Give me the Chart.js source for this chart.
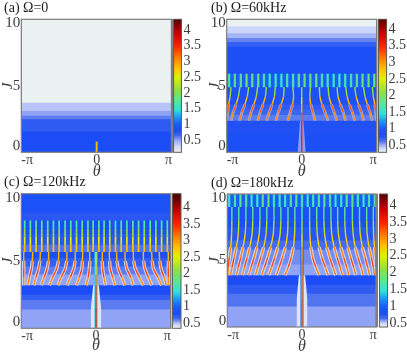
<!DOCTYPE html>
<html>
<head>
<meta charset="utf-8">
<script src="https://cdn.jsdelivr.net/npm/chart.js@4"></script>
<style>
  html, body { margin: 0; padding: 0; background: #fff; }
  canvas { position: absolute; filter: blur(0.35px); }
</style>
</head>
<body>
<script>
/* ── Axis labels ── */
const thetaTicks = [-Math.PI, 0, Math.PI];
const thetaLabels = ['-π', '0', 'π'];
const jTicks = [0.45, 5, 9.7];
const jLabels = ['0', '5', '10'];
const barTicks = [0.5, 1, 1.5, 2, 2.5, 3, 3.5, 4];
const barLabels = ['0.5', '1', '1.5', '2', '2.5', '3', '3.5', '4'];
const titles = ['(a) Ω=0', '(b) Ω=60kHz', '(c) Ω=120kHz', '(d) Ω=180kHz'];

/* ── Colour scale ── */
const scaleVals = [0.13, 0.3, 0.45, 0.55, 0.65, 0.8, 1.0, 1.2, 1.45, 1.7, 2.1, 2.5, 2.8, 3.1, 3.5, 3.9, 4.34];
const scaleCols = ['#ebf0f0', '#ccd6fa', '#a6b5f8', '#7a90f2', '#3f68f0', '#1c4cf6', '#1a5cf8', '#1e90f5', '#30e0e0',
                   '#50e8a0', '#90e040', '#e0f000', '#ffc000', '#ff8000', '#ff2000', '#c80000', '#500000'];
const barMin = [0.11, 0.28, 0.35, 0.38];
const barMax = [4.34, 4.3, 4.41, 4.34];

/* ── Background bands: lower J edge and level ── */
const aEdges = [0, 1.55, 2.48, 2.75, 3.1, 3.73];
const aVals  = [0.8, 0.72, 0.6, 0.5, 0.38, 0.13];
const bEdges = [0, 1.4, 2.38, 2.8, 3.2, 3.6, 4.0, 4.9, 5.9, 7.93, 8.3, 8.6, 8.95, 9.45];
const bVals  = [0.84, 0.78, 0.6, 0.66, 0.72, 0.78, 0.86, 1.0, 0.84, 0.7, 0.58, 0.45, 0.3, 0.13];
const cEdges = [0, 1.4, 2.1, 2.5, 3.2, 4.0, 4.6, 5.2, 5.67, 6.2, 7.0, 8.0, 8.56];
const cVals  = [0.5, 0.6, 0.7, 0.8, 0.5, 0.6, 0.7, 0.82, 0.62, 0.74, 0.84, 0.74, 0.86];
const dEdges = [0, 1.55, 2.5, 3.18, 3.9, 4.7, 5.8, 6.5, 7.5, 9.02];
const dVals  = [0.5, 0.62, 0.72, 0.8, 0.5, 0.56, 0.64, 0.74, 0.84, 1.0];

/* ── Pale wedge around theta = 0 ── */
const bWedgeTheta = [-0.17, -0.07, 0.07, 0.17];
const bWedgeJ = [0, 2.38, 2.38, 0];
const cWedgeTheta = [-0.22, -0.22, -0.12, 0.12, 0.22, 0.22];
const cWedgeJ = [0, 1.4, 3.2, 3.2, 1.4, 0];
const dWedgeTheta = [-0.23, -0.23, -0.13, 0.13, 0.23, 0.23];
const dWedgeJ = [0, 2.0, 3.9, 3.9, 2.0, 0];

/* ── Centre line ── */
const aCoreJ = [0, 0.8];
const aCoreVal = [2.9, 2.7];
const bCoreJ = [0, 1.2, 2.4, 3.0, 3.6, 4.2, 4.9];
const bCoreVal = [3.5, 3.6, 3.5, 3.1, 2.7, 2.3, 1.9];
const cCoreJ = [0, 1.5, 3.2, 4.0, 4.8, 5.67];
const cCoreVal = [3.6, 3.5, 3.3, 2.9, 2.6, 2.2];
const dCoreJ = [0, 2.0, 3.9, 5.0, 6.0, 7.0, 8.0, 9.02];
const dCoreVal = [3.2, 3.1, 3.0, 3.1, 2.8, 2.4, 1.9, 1.5];

/* ── Straight stripes ── */
const bStripeTheta = [-3.04, -2.80, -2.55, -2.31, -2.07, -1.82, -1.58, -1.34, -1.09, -0.85, -0.61, -0.36, -0.12,
                      0.12, 0.36, 0.61, 0.85, 1.09, 1.34, 1.58, 1.82, 2.07, 2.31, 2.55, 2.80, 3.04];
const bStripeJ = [4.9, 5.9];
const bStripeVal = [2.0, 1.9];
const cStripeTheta = [-3.0, -2.76, -2.52, -2.28, -2.03, -1.79, -1.55, -1.30, -1.06, -0.82, -0.58, -0.34, -0.12,
                      0.12, 0.34, 0.58, 0.82, 1.06, 1.30, 1.55, 1.79, 2.03, 2.28, 2.52, 2.76, 3.0];
const cStripeJ = [5.67, 6.2, 6.8, 7.4, 8.0];
const cStripeVal = [2.9, 2.7, 2.3, 1.9, 1.5];
const dStripeTheta = [-3.06, -2.82, -2.59, -2.35, -2.12, -1.88, -1.65, -1.41, -1.18, -0.94, -0.71, -0.47, -0.24,
                      0.0, 0.24, 0.47, 0.71, 0.94, 1.18, 1.41, 1.65, 1.88, 2.12, 2.35, 2.59, 2.82, 3.06];
const dStripeJ = [9.02, 10];
const dStripeVal = [1.9, 1.8];

/* ── Bent streaks, one row per streak ── */
const bCurveJ = [4.9, 4.2, 3.6, 3.0, 2.38];
const bCurveVal = [1.8, 2.5, 3.1, 3.4, 2.7];
const bCurveTheta = [
  [-2.96, -3.0, -3.06, -3.1, -3.13], [-2.59, -2.65, -2.75, -2.87, -2.96], [-2.22, -2.28, -2.38, -2.5, -2.6],
  [-1.85, -1.9, -2.0, -2.12, -2.22], [-1.48, -1.52, -1.62, -1.74, -1.84], [-1.11, -1.14, -1.24, -1.36, -1.47],
  [-0.74, -0.76, -0.86, -0.98, -1.08], [-0.37, -0.34, -0.38, -0.48, -0.58],
  [0.37, 0.34, 0.38, 0.47, 0.56], [0.74, 0.76, 0.85, 0.98, 1.1], [1.11, 1.14, 1.24, 1.36, 1.47],
  [1.48, 1.52, 1.62, 1.74, 1.84], [1.85, 1.9, 2.0, 2.12, 2.22], [2.22, 2.28, 2.38, 2.5, 2.6],
  [2.59, 2.65, 2.75, 2.86, 2.95], [2.96, 3.0, 3.06, 3.1, 3.12]
];
const cCurveJ = [5.67, 5.0, 4.4, 3.8, 3.2];
const cCurveVal = [2.7, 3.0, 3.4, 3.3, 2.8];
const cCurveTheta = [
  [-3.04, -3.04, -3.04, -3.04, -3.04], [-2.66, -2.68, -2.72, -2.8, -2.86], [-2.34, -2.36, -2.42, -2.52, -2.62],
  [-1.99, -2.0, -2.06, -2.18, -2.3], [-1.57, -1.58, -1.66, -1.82, -1.96], [-1.22, -1.23, -1.3, -1.46, -1.6],
  [-0.87, -0.88, -0.94, -1.08, -1.22], [-0.56, -0.57, -0.6, -0.7, -0.82], [-0.27, -0.26, -0.28, -0.33, -0.42],
  [0.27, 0.26, 0.28, 0.33, 0.4], [0.56, 0.57, 0.6, 0.7, 0.8], [0.87, 0.88, 0.94, 1.08, 1.22],
  [1.22, 1.23, 1.3, 1.46, 1.57], [1.57, 1.58, 1.66, 1.82, 1.99], [1.99, 2.0, 2.06, 2.2, 2.34],
  [2.34, 2.36, 2.42, 2.6, 2.76], [2.66, 2.68, 2.74, 2.86, 2.96], [3.04, 3.04, 3.04, 3.04, 3.04]
];
const dCurveJ = [9.02, 8.0, 7.0, 6.0, 5.2, 4.5, 3.9];
const dCurveVal = [1.5, 2.0, 2.5, 2.9, 3.3, 3.4, 2.8];
const dCurveTheta = [
  [-2.95, -2.95, -2.96, -3.0, -3.06, -3.1, -3.12], [-2.66, -2.66, -2.68, -2.76, -2.86, -2.94, -3.0],
  [-2.36, -2.36, -2.39, -2.48, -2.58, -2.68, -2.76], [-2.07, -2.07, -2.1, -2.2, -2.31, -2.42, -2.5],
  [-1.77, -1.77, -1.8, -1.9, -2.02, -2.14, -2.24], [-1.48, -1.48, -1.51, -1.61, -1.74, -1.86, -1.96],
  [-1.18, -1.18, -1.21, -1.32, -1.45, -1.58, -1.7], [-0.89, -0.89, -0.92, -1.02, -1.15, -1.28, -1.4],
  [-0.59, -0.59, -0.61, -0.7, -0.83, -0.96, -1.08], [-0.3, -0.3, -0.31, -0.36, -0.46, -0.58, -0.72],
  [0.32, 0.32, 0.33, 0.37, 0.45, 0.58, 0.72], [0.62, 0.62, 0.64, 0.72, 0.84, 0.98, 1.1],
  [0.92, 0.92, 0.95, 1.04, 1.17, 1.3, 1.42], [1.22, 1.22, 1.25, 1.35, 1.48, 1.6, 1.7],
  [1.5, 1.5, 1.53, 1.63, 1.76, 1.88, 1.97], [1.8, 1.8, 1.83, 1.93, 2.05, 2.17, 2.26],
  [2.12, 2.12, 2.15, 2.24, 2.36, 2.48, 2.57], [2.42, 2.42, 2.45, 2.54, 2.66, 2.76, 2.84],
  [2.72, 2.72, 2.74, 2.82, 2.92, 3.0, 3.04], [3.0, 3.0, 3.01, 3.05, 3.1, 3.12, 3.13]
];

/* ── Page layout ── */
const panelBoxes = [
  { left: 0,   top: 0,   w: 180, h: 180, pad: 4, l: 21.3, r: 172,   t: 19.3, b: 152.3, rim: 2.4 },
  { left: 206, top: 0,   w: 180, h: 180, pad: 5, l: 20.7, r: 170.7, t: 19.3, b: 152.3, rim: 1.2 },
  { left: 0,   top: 174, w: 180, h: 180, pad: 4, l: 21.3, r: 170.7, t: 19.7, b: 154.3, rim: 1.2 },
  { left: 206, top: 175, w: 180, h: 180, pad: 5, l: 21.3, r: 170.7, t: 19,   b: 152,   rim: 2.6 }
];
const barBoxes = [
  { left: 173, top: 0,   w: 34, h: 180, l: 0.6, r: 8.4, t: 19.3, b: 152.3 },
  { left: 378, top: 0,   w: 29, h: 180, l: 0.4, r: 8.6, t: 19.3, b: 152.3 },
  { left: 172, top: 174, w: 34, h: 180, l: 0.4, r: 9,   t: 19.7, b: 154.3 },
  { left: 379, top: 175, w: 28, h: 180, l: 0.4, r: 8.6, t: 19,   b: 152 }
];

const SERIF = '"Liberation Serif", serif';
const INK = '#3c3c3c';

function colourOf(v) {
  if (v <= scaleVals[0]) return scaleCols[0];
  for (let i = 1; i < scaleVals.length; i++) {
    if (v <= scaleVals[i]) {
      const f = (v - scaleVals[i - 1]) / (scaleVals[i] - scaleVals[i - 1]);
      const a = parseInt(scaleCols[i - 1].slice(1), 16), b = parseInt(scaleCols[i].slice(1), 16);
      const mix = s => Math.round(((a >> s) & 255) * (1 - f) + ((b >> s) & 255) * f);
      return `rgb(${mix(16)},${mix(8)},${mix(0)})`;
    }
  }
  return scaleCols[scaleCols.length - 1];
}

/* ── Dataset builders ── */
function bandSets(edges, vals, xMin, xMax) {
  return edges.map((e, i) => ({
    data: [{ x: xMin, y: e }, { x: xMax, y: e }],
    borderWidth: 0, pointRadius: 0,
    fill: 'end', backgroundColor: colourOf(vals[i]),
  }));
}

function wedgeSet(thetas, js, level) {
  return {
    data: thetas.map((t, i) => ({ x: t, y: js[i] })),
    borderWidth: 0, pointRadius: 0,
    fill: 'start', backgroundColor: colourOf(level),
  };
}

function streakSet(thetas, js, vals, width) {
  return {
    data: js.map((j, i) => ({ x: thetas[i], y: j })),
    borderWidth: width, pointRadius: 0, tension: 0.25,
    borderColor: colourOf(vals[0]),
    segment: {
      borderColor: c => colourOf((vals[c.p0DataIndex] + vals[c.p1DataIndex]) / 2),
    },
  };
}

function haloSet(thetas, js, from, level, width) {
  return {
    data: js.slice(from).map((j, i) => ({ x: thetas[i + from], y: j })),
    borderWidth: width, pointRadius: 0, tension: 0.25,
    borderColor: colourOf(level),
  };
}

const panelSets = [
  [
    ...bandSets(aEdges, aVals, -Math.PI, Math.PI),
    streakSet([0, 0], aCoreJ, [1.2, 1.2], 3),
    streakSet([0, 0], aCoreJ, aCoreVal, 1.3),
  ],
  [
    ...bandSets(bEdges, bVals, -Math.PI, Math.PI),
    wedgeSet(bWedgeTheta, bWedgeJ, 0.52),
    ...bCurveTheta.map(t => haloSet(t, bCurveJ, 2, 0.5, 3)),
    ...bStripeTheta.map(t => streakSet([t, t], bStripeJ, [1.4, 1.4], 2.4)),
    ...bStripeTheta.map(t => streakSet([t, t], bStripeJ, bStripeVal, 1)),
    ...bCurveTheta.map(t => streakSet(t, bCurveJ, bCurveVal, 1.4)),
    streakSet(bCoreJ.map(() => 0), bCoreJ, bCoreVal, 1.4),
  ],
  [
    ...bandSets(cEdges, cVals, -Math.PI, Math.PI),
    wedgeSet(cWedgeTheta, cWedgeJ, 0.2),
    ...cCurveTheta.map(t => haloSet(t, cCurveJ, 1, 0.3, 3.4)),
    ...cStripeTheta.map(t => streakSet(cStripeJ.map(() => t), cStripeJ, cStripeVal, 1.7)),
    ...cCurveTheta.map(t => streakSet(t, cCurveJ, cCurveVal, 1.4)),
    streakSet(cCoreJ.map(() => 0), cCoreJ, cCoreJ.map(() => 1.4), 3.2),
    streakSet(cCoreJ.map(() => 0), cCoreJ, cCoreVal, 1.3),
  ],
  [
    ...bandSets(dEdges, dVals, -Math.PI, Math.PI),
    wedgeSet(dWedgeTheta, dWedgeJ, 0.2),
    ...dCurveTheta.map(t => haloSet(t, dCurveJ, 3, 0.28, 3.4)),
    ...dStripeTheta.map(t => streakSet([t, t], dStripeJ, [1.4, 1.4], 2.3)),
    ...dStripeTheta.map(t => streakSet([t, t], dStripeJ, dStripeVal, 1)),
    ...dCurveTheta.map(t => streakSet(t, dCurveJ, dCurveVal, 1.4)),
    streakSet(dCoreJ.map(() => 0), dCoreJ, dCoreJ.map(() => 1.0), 3),
    streakSet(dCoreJ.map(() => 0), dCoreJ, dCoreVal, 1.4),
  ],
];

/* ── Plot frame ── */
const framePlugin = {
  id: 'frame',
  afterDraw(chart, args, opts) {
    const { ctx, chartArea: a } = chart;
    ctx.save();
    ctx.strokeStyle = opts.color;
    ctx.lineWidth = opts.width;
    ctx.strokeRect(a.left, a.top, a.right - a.left, a.bottom - a.top);
    if (opts.rim) {
      ctx.lineWidth = opts.rim;
      ctx.beginPath();
      ctx.moveTo(a.right, a.top);
      ctx.lineTo(a.right, a.bottom);
      ctx.stroke();
    }
    ctx.restore();
  },
};

function addCanvas(box) {
  const cv = document.createElement('canvas');
  cv.width = box.w;
  cv.height = box.h;
  cv.style.left = box.left + 'px';
  cv.style.top = box.top + 'px';
  cv.style.width = box.w + 'px';
  cv.style.height = box.h + 'px';
  document.body.appendChild(cv);
  return cv;
}

function listedTicks(values) {
  return scale => { scale.ticks = values.map(v => ({ value: v })); };
}

/* ── Heat panels ── */
function drawPanel(idx) {
  const box = panelBoxes[idx];
  new Chart(addCanvas(box), {
    type: 'line',
    data: { datasets: panelSets[idx].slice().reverse() },
    plugins: [framePlugin],
    options: {
      responsive: false, animation: false, devicePixelRatio: 1,
      events: [],
      layout: { padding: { left: box.pad, right: box.w - box.r, top: 0, bottom: 0 } },
      plugins: {
        legend: { display: false },
        tooltip: { enabled: false },
        title: {
          display: true, text: titles[idx], align: 'start', color: '#1c1c1c',
          font: { family: SERIF, size: 14, weight: 'normal' },
          padding: { top: 0, bottom: box.t - 16.8 },
        },
        frame: { color: '#7e7e7e', width: 1.2, rim: box.rim },
      },
      scales: {
        x: {
          type: 'linear', min: -Math.PI, max: Math.PI,
          grid: { display: false, drawTicks: false }, border: { display: false },
          afterBuildTicks: listedTicks(thetaTicks),
          afterFit: s => { s.height = box.h - box.b; },
          ticks: {
            align: 'inner', maxRotation: 0, padding: 0, color: INK, autoSkip: false,
            font: { family: SERIF, size: 14 },
            callback: (v, i) => thetaLabels[i],
          },
          title: {
            display: true, text: 'θ', color: INK, padding: 0,
            font: { family: SERIF, size: 16, style: 'italic', lineHeight: 1 },
          },
        },
        y: {
          min: 0, max: 10,
          grid: { display: false, drawTicks: false }, border: { display: false },
          afterBuildTicks: listedTicks(jTicks),
          afterFit: s => { s.width = box.l - box.pad; },
          ticks: {
            padding: 1, color: INK, autoSkip: false,
            font: { family: SERIF, size: 15 },
            callback: (v, i) => jLabels[i],
          },
          title: {
            display: true, text: 'J', color: INK, padding: 0,
            font: { family: SERIF, size: 15, style: 'italic', lineHeight: 0.5 },
          },
        },
      },
    },
  });
}

/* ── Colour bars ── */
function drawBar(idx) {
  const box = barBoxes[idx];
  const edges = [], vals = [];
  for (let v = barMin[idx]; v < barMax[idx]; v += 0.04) {
    edges.push(v);
    // the foot of each bar runs out to the palest colour
    const foot = barMin[idx] + 0.2;
    vals.push(v < foot ? 0.13 + (v - barMin[idx]) * (foot - 0.13) / 0.2 : v + 0.02);
  }
  new Chart(addCanvas(box), {
    type: 'line',
    data: { datasets: bandSets(edges, vals, 0, 1).reverse() },
    plugins: [framePlugin],
    options: {
      responsive: false, animation: false, devicePixelRatio: 1,
      events: [],
      layout: { padding: { left: box.l, top: box.t, bottom: box.h - box.b, right: 0 } },
      plugins: {
        legend: { display: false },
        tooltip: { enabled: false },
        frame: { color: '#5c5c5c', width: 1, rim: 0 },
      },
      scales: {
        x: { type: 'linear', min: 0, max: 1, display: false },
        y: {
          position: 'right', min: barMin[idx], max: barMax[idx],
          grid: { display: false, drawTicks: false }, border: { display: false },
          afterBuildTicks: listedTicks(barTicks),
          afterFit: s => { s.width = box.w - box.r; },
          ticks: {
            padding: 2, color: INK, autoSkip: false,
            font: { family: SERIF, size: 14 },
            callback: (v, i) => barLabels[i],
          },
        },
      },
    },
  });
}

[0, 1, 2, 3].forEach(i => { drawPanel(i); drawBar(i); });
</script>
</body>
</html>
